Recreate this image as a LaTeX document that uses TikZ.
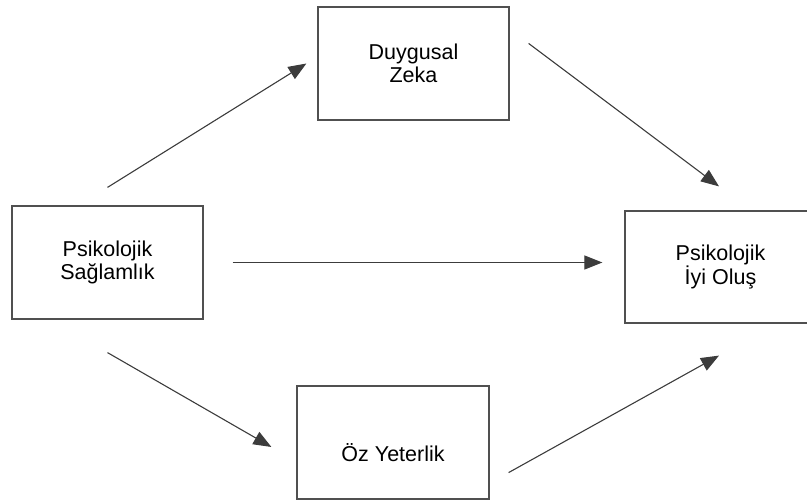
\documentclass[tikz,border=0pt]{standalone}
\usepackage{fontspec}
\setmainfont{Liberation Sans}
\usetikzlibrary{positioning, arrows.meta, shapes, calc}
\definecolor{boxline}{RGB}{80,80,80}
\definecolor{arrowline}{RGB}{60,60,60}

\begin{document}
\begin{tikzpicture}[x=1pt, y=-1pt,
    varbox/.style={draw=boxline, line width=1.2pt, minimum width=191pt, minimum height=113pt,
        inner sep=0pt, align=center, font=\fontsize{21.5}{23}\selectfont},
    link/.style={draw=arrowline, line width=1.1pt, -{Triangle[length=18pt, width=14pt]}}]
        \useasboundingbox (0,0) rectangle (807,502);
        \node[varbox] (dz) at (413.5,63.5) {Duygusal\\Zeka};
        \node[varbox] (psr) at (107.5,262.5) {Psikolojik\\Sağlamlık};
        \node[varbox, minimum height=112pt] (pio) at (720.5,267) {Psikolojik\\İyi Oluş};
        \node[varbox, minimum width=192pt, text height=39pt, text depth=0pt] (oy) at (393,442.5) {Öz Yeterlik};
        \draw[link] ($(psr.north)+(0,-18)$) -- ($(dz.west)+(-11,0)$);
        \draw[link] ($(psr.east)+(29,0)$) -- ($(psr.east -| pio.west)+(-22,0)$);
        \draw[link] ($(psr.south)+(0,33)$) -- ($(oy.west)+(-25,4.5)$);
        \draw[link] ($(dz.north east)+(19,37)$) -- ($(pio.north)+(-1.5,-24)$);
        \draw[link] ($(oy.south east)+(19,-27)$) -- ($(pio.south)+(-1.5,32)$);
    \end{tikzpicture}
\end{document}
